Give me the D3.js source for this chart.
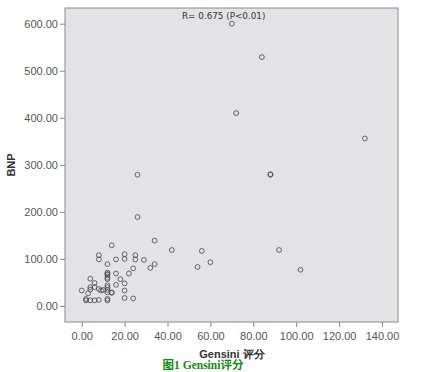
<!DOCTYPE html>
<html><head><meta charset="utf-8">
<script src="https://cdn.jsdelivr.net/npm/d3@7"></script>
<style>body{margin:0;background:#fff}svg{display:block}</style>
</head><body>
<svg id="c" width="432" height="372"></svg>
<script>
const gensini = [70,84,72,132,26,88,88,26,34,14,42,56,92,102,60,54,34,32,29,25,25,24,22,20,20,16,16,18,16,20,20,20,24,14,12,12,12,12,12,12,12,12,12,12,12,8,8,4,6,4,4,8,10,6,3,9,2,2,4,6,8,0,14,12];
const bnp =     [600,529,410,356,279,279,280,189,139,129,119,117,119,77,93,83,89,81,98,108,99,80,69,110,100,99,69,57,45,48,33,17,16,29,89,71,66,60,44,40,34,29,15,12,68,108,99,58,49,40,35,36,34,40,27,33,15,12,12,12,13,33,28,57];
const xTicks = [0,20,40,60,80,100,120,140];
const yTicks = [0,100,200,300,400,500,600];
const annotation = "R= 0.675 (P<0.01)";
const xTitle = "Gensini 评分", yTitle = "BNP", caption = "图1 Gensini评分";

const svg = d3.select("#c");
const L=65, R=398, T=8, B=322;
const x = d3.scaleLinear().domain([0,140]).range([81.7,382]);
const y = d3.scaleLinear().domain([0,600]).range([306,23.7]);

svg.append("rect").attr("x",L).attr("y",T).attr("width",R-L).attr("height",B-T)
  .attr("fill","#e3e3e5").attr("stroke","#8a8a8a").attr("stroke-width",1);

const fmt = d=>d.toFixed(2);
const ya = svg.append("g").attr("transform",`translate(${L},0)`)
  .call(d3.axisLeft(y).tickValues(yTicks).tickFormat(fmt).tickSize(5).tickSizeOuter(0));
const xa = svg.append("g").attr("transform",`translate(0,${B})`)
  .call(d3.axisBottom(x).tickValues(xTicks).tickFormat(fmt).tickSize(5).tickSizeOuter(0));
[ya,xa].forEach(a=>{
  a.select(".domain").remove();
  a.selectAll("line").attr("stroke","#8a8a8a");
  a.selectAll("text").attr("fill","#555").attr("font-family","Liberation Sans, Arial, sans-serif").attr("font-size",11);
});
ya.selectAll("text").attr("x",-7).attr("dy","0.35em");
xa.selectAll("text").attr("y",10);

svg.append("g").selectAll("circle").data(gensini.map((g,i)=>[g,bnp[i]])).join("circle")
  .attr("cx",d=>x(d[0])).attr("cy",d=>y(d[1])).attr("r",2.4)
  .attr("fill","none").attr("stroke","#444").attr("stroke-width",0.8);

svg.append("text").attr("x",182).attr("y",18.5).text(annotation)
  .attr("font-family","DejaVu Sans, sans-serif").attr("font-size",8.8).attr("fill","#333");

svg.append("text").attr("transform","translate(15,165) rotate(-90)").attr("text-anchor","middle")
  .text(yTitle).attr("font-family","Liberation Sans, Arial, sans-serif").attr("font-weight","bold").attr("font-size",11).attr("fill","#333");
svg.append("text").attr("x",232).attr("y",358).attr("text-anchor","middle")
  .text(xTitle).attr("font-family","Liberation Sans, Arial, sans-serif").attr("font-weight","bold").attr("font-size",11).attr("fill","#333");
svg.append("text").attr("x",203).attr("y",369).attr("text-anchor","middle")
  .text(caption).attr("font-family","Liberation Serif, 'Noto Sans CJK SC', serif").attr("font-weight","bold").attr("font-size",11.5).attr("fill","#118a11");
</script>
</body></html>
